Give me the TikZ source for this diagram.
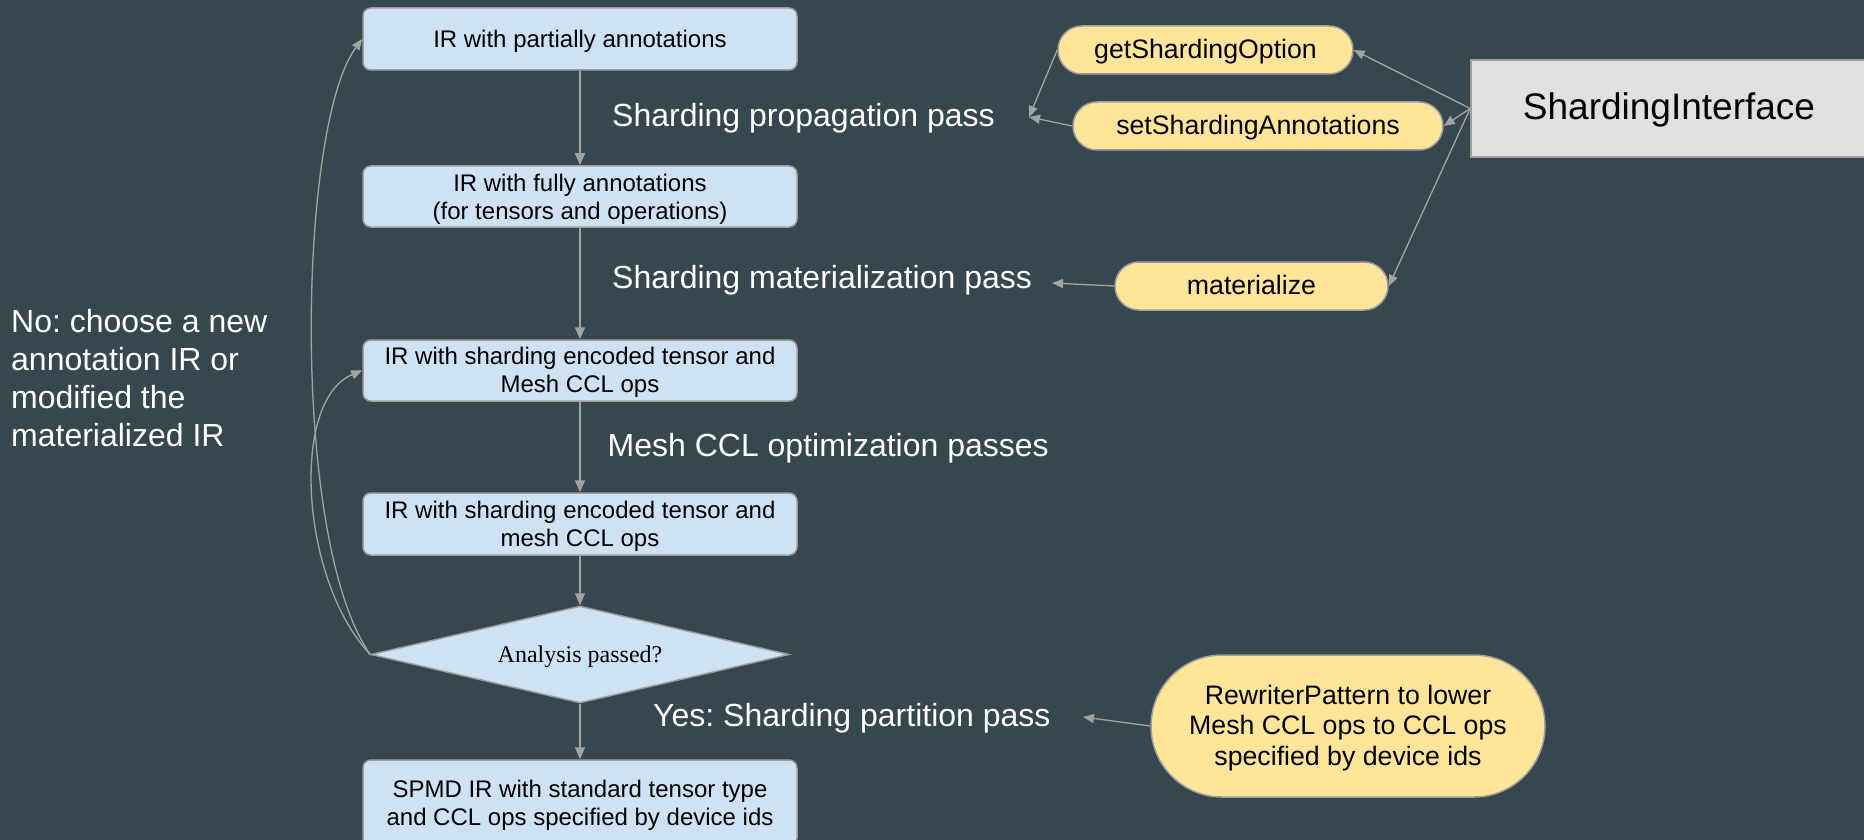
\documentclass[tikz,border=0pt]{standalone}
\usepackage{fontspec}
\setmainfont{Liberation Sans}
\newfontfamily\serifface{Liberation Serif}
\usetikzlibrary{arrows.meta,shapes.geometric}
\frenchspacing
\definecolor{bg}{HTML}{37474F}
\definecolor{irfill}{HTML}{CFE2F3}
\definecolor{hookfill}{HTML}{FFE599}
\definecolor{ifacefill}{HTML}{E0E0E0}
\definecolor{edge}{HTML}{9E9E9E}
\definecolor{wire}{HTML}{A3A3A3}
% rows of text whose box baseline is the first row's baseline
\newcommand\linesof[2][c]{\begin{tabular}[t]{@{}#1@{}}#2\end{tabular}}
\tikzset{
  irbox/.style={draw=edge, fill=irfill, line width=1.5pt, rounded corners=8pt,
    minimum width=434pt, minimum height=62pt, inner sep=0pt,
    font=\fontsize{24}{28}\selectfont},
  % first baseline lies at (centre + (text height - text depth)/2), y pointing down
  drop/.style={text height=0pt, text depth=#1},
  rise/.style={text height=#1, text depth=0pt},
  hook/.style={draw=edge, fill=hookfill, line width=1.5pt, rounded corners=24pt,
    minimum height=48pt, inner sep=0pt, rise=17pt,
    font=\fontsize{26.7}{30.7}\selectfont},
  flow/.style={draw=wire, line width=1.6pt, -{Triangle[length=12pt,width=10pt]}},
  thinflow/.style={draw=wire, line width=1.3pt, -{Triangle[length=11pt,width=9pt]}},
  passlabel/.style={text=white, anchor=base west, inner sep=0pt,
    font=\fontsize{32}{38.2}\selectfont},
}
\begin{document}
\begin{tikzpicture}[x=1pt,y=-1pt]
  \fill[bg] (0,0) rectangle (1864,840);
  \useasboundingbox (0,0) rectangle (1864,840);
  \clip (0,0) rectangle (1864,840);

  % main flow of IR stages
  \node[irbox, rise=18pt] (b1) at (580,39) {IR with partially annotations};
  \node[irbox, minimum height=61pt, drop=9pt] (b2) at (580,196.5)
    {\linesof{IR with fully annotations\\(for tensors and operations)}};
  \node[irbox, minimum height=61pt, drop=13pt] (b3) at (580,370.5)
    {\linesof{IR with sharding encoded tensor and\\Mesh CCL ops}};
  \node[irbox, drop=12pt] (b4) at (580,524)
    {\linesof{IR with sharding encoded tensor and\\mesh CCL ops}};
  \node[draw=edge, fill=irfill, line width=1.5pt, diamond, shape aspect=4.31,
        minimum width=418pt, minimum height=97pt, inner sep=0pt, rise=15pt,
        font=\serifface\fontsize{24}{28}\selectfont]
        (dia) at (580,654.5) {Analysis passed?};
  \node[irbox, minimum height=86pt, drop=12pt] (b5) at (580,803)
    {\linesof{SPMD IR with standard tensor type\\and CCL ops specified by device ids}};

  \draw[flow] (b1) -- (b2);
  \draw[flow] (b2) -- (b3);
  \draw[flow] (b3) -- (b4);
  \draw[flow] (b4) -- (dia);
  \draw[flow] (dia) -- (b5);

  % pass labels
  \node[passlabel] (lprop) at (612,127) {Sharding propagation pass};
  \node[passlabel] (lmat) at (612,288) {Sharding materialization pass};
  \node[passlabel] (lmesh) at (607.5,456.5) {Mesh CCL optimization passes};
  \node[passlabel] (lyes) at (653,726.5) {Yes: Sharding partition pass};
  \node[passlabel] (lno) at (11,332)
    {\linesof[l]{No: choose a new\\annotation IR or\\modified the\\materialized IR}};

  % feedback loops
  \draw[thinflow] (dia.west) .. controls (290,540) and (298,125) .. (b1.west);
  \draw[thinflow] (dia.west) .. controls (300,580) and (290,400) .. (b3.west);

  % interface and its hooks
  \node[draw=edge, fill=ifacefill, line width=1.5pt, minimum width=396pt,
        minimum height=97pt, inner sep=0pt, rise=23pt, font=\fontsize{37}{42}\selectfont]
        (si) at (1669,108.5) {ShardingInterface};
  \node[hook, minimum width=295pt] (gso) at (1205.5,50) {getShardingOption};
  \node[hook, minimum width=370pt] (ssa) at (1258,126) {setShardingAnnotations};
  \node[hook, minimum width=273pt] (mat) at (1251.5,286) {materialize};
  \node[hook, rounded corners=71pt, minimum width=394pt, minimum height=142pt,
        drop=44pt] (rw) at (1348,726)
        {\linesof{RewriterPattern to lower\\Mesh CCL ops to CCL ops\\specified by device ids}};

  \coordinate (propin) at (1029,117);
  \coordinate (matin) at (1052,283);
  \coordinate (yesin) at (1083,717);

  \draw[thinflow] (si.west) -- (gso.east);
  \draw[thinflow] (si.west) -- (ssa.east);
  \draw[thinflow] (si.west) -- (mat.east);
  \draw[thinflow] (gso.west) -- (propin);
  \draw[thinflow] (ssa.west) -- (propin);
  \draw[thinflow] (mat.west) -- (matin);
  \draw[thinflow] (rw.west) -- (yesin);
\end{tikzpicture}
\end{document}
